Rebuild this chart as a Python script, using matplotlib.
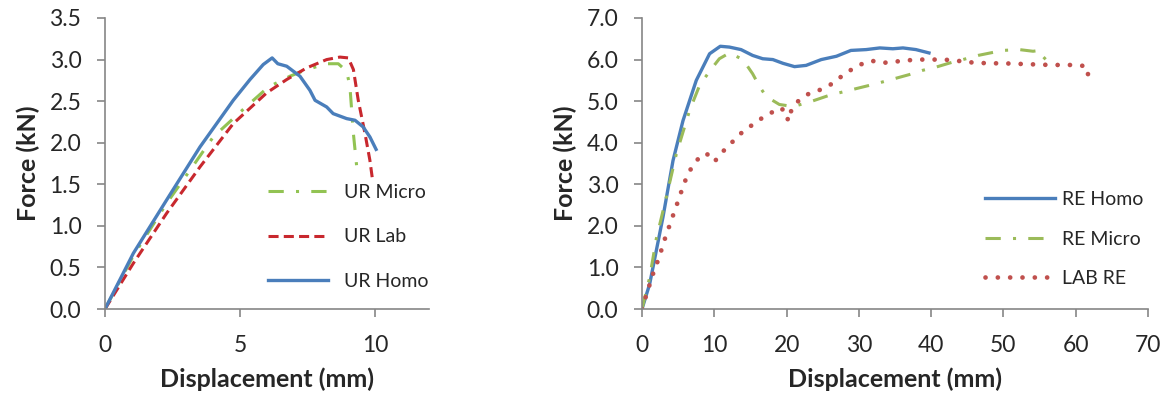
import numpy as np
import matplotlib
matplotlib.use('Agg')
import matplotlib.pyplot as plt

# left panel: UR specimens
ur_micro_x = [0, 1.05, 2.28, 3.15, 4.01, 5.25, 6.05, 6.85, 7.47, 8.21, 8.64, 8.95, 9.07, 9.2, 9.32]
ur_micro_y = [0, 0.64, 1.27, 1.67, 2.07, 2.44, 2.67, 2.80, 2.88, 2.95, 2.95, 2.86, 2.68, 2.11, 1.72]
ur_lab_x = [0, 1.05, 2.28, 3.52, 4.75, 5.99, 6.73, 7.47, 8.21, 8.70, 9.01, 9.2, 9.38, 9.63, 9.81, 9.91]
ur_lab_y = [0, 0.55, 1.15, 1.71, 2.23, 2.60, 2.76, 2.90, 3.00, 3.03, 3.02, 2.88, 2.51, 2.11, 1.79, 1.55]
ur_homo_x = [0, 1.05, 2.28, 3.52, 4.75, 5.37, 5.86, 6.19, 6.4, 6.73, 7.22, 7.59, 7.78, 8.21,
             8.45, 8.95, 9.26, 9.56, 9.81, 10.04]
ur_homo_y = [0, 0.67, 1.31, 1.95, 2.51, 2.76, 2.94, 3.02, 2.95, 2.92, 2.80, 2.63, 2.51, 2.43,
             2.35, 2.29, 2.27, 2.19, 2.07, 1.92]

# right panel: RE specimens
re_homo_x = [0, 1.06, 2.9, 4.29, 5.67, 7.51, 9.35, 10.83, 12.1, 13.7, 15.3, 16.7, 18.1, 19.5,
             21.1, 22.7, 24.8, 26.9, 28.9, 31.0, 32.9, 34.7, 36.1, 37.9, 39.7]
re_homo_y = [0, 0.60, 2.21, 3.57, 4.53, 5.50, 6.14, 6.32, 6.30, 6.24, 6.10, 6.02, 6.00, 5.91,
             5.83, 5.86, 6.00, 6.08, 6.22, 6.24, 6.28, 6.26, 6.28, 6.24, 6.16]
re_micro_x = [0, 1.06, 1.98, 3.36, 4.75, 6.59, 7.97, 9.35, 10.7, 12.1, 13.96, 15.3, 16.3, 17.2,
              19.0, 20.9, 23.2, 25.9, 28.9, 32.4, 34.7, 37.0, 38.8, 40.7, 43.0, 44.4, 46.5,
              49.9, 52.2, 54.1, 55.0, 55.1, 56.2]
re_micro_y = [0, 0.76, 1.69, 2.69, 3.73, 4.78, 5.38, 5.72, 6.02, 6.16, 6.0, 5.66, 5.34, 5.11,
              4.92, 4.87, 4.98, 5.14, 5.27, 5.42, 5.53, 5.64, 5.74, 5.82, 5.94, 6.0, 6.10,
              6.22, 6.24, 6.20, 6.22, 6.14, 5.94]
lab_re_x = [0, 0.46, 0.97, 1.47, 2.03, 2.58, 3.09, 3.59, 4.15, 4.70, 5.25, 5.81, 6.41, 7.28,
            8.34, 9.54, 10.1, 11.2, 12.4, 13.5, 14.8, 16.2, 17.6, 19.0, 20.0, 20.2, 20.7,
            21.7, 23.0, 24.6, 26.1, 27.4, 28.8, 30.2, 31.8, 33.3, 35.0, 36.6, 38.2, 39.9,
            41.6, 43.3, 44.9, 46.6, 48.2, 49.9, 51.6, 53.2, 54.9, 56.5, 58.2, 59.9, 61.5, 61.8]
lab_re_y = [0, 0.26, 0.54, 0.82, 1.08, 1.36, 1.65, 1.90, 2.18, 2.45, 2.73, 3.01, 3.27, 3.51,
            3.73, 3.71, 3.56, 3.79, 4.0, 4.20, 4.37, 4.55, 4.69, 4.84, 4.75, 4.52, 4.80,
            5.02, 5.17, 5.27, 5.40, 5.57, 5.74, 5.88, 5.97, 5.92, 5.95, 5.98, 6.0, 6.0,
            6.0, 5.98, 5.94, 5.92, 5.91, 5.91, 5.90, 5.89, 5.88, 5.87, 5.87, 5.87, 5.84, 5.55]

plt.rcParams['font.family'] = ['Lato', 'DejaVu Sans']
txt = '#262626'
grey = '#868686'
blue = '#4A7EBB'
green = '#92C353'
red = '#C8282E'
red2 = '#C0504D'

fig = plt.figure(figsize=(11.68, 4.0), dpi=100)
axL = fig.add_axes([105/1168, 91/400, 324/1168, 291/400])
axR = fig.add_axes([642/1168, 91/400, 506/1168, 291/400])


def style(ax):
    for s in ['top', 'right']:
        ax.spines[s].set_visible(False)
    for s in ['left', 'bottom']:
        ax.spines[s].set_color(grey)
        ax.spines[s].set_linewidth(1.2)
    ax.tick_params(axis='both', direction='out', length=6, width=1.2, color=grey,
                   labelsize=16.5, labelcolor=txt)
    ax.tick_params(axis='x', pad=13)
    ax.tick_params(axis='y', pad=11)
    ax.set_xlabel('Displacement (mm)', fontsize=18, fontweight='bold', color=txt, labelpad=8)
    ax.set_ylabel('Force (kN)', fontsize=18, fontweight='bold', color=txt, labelpad=7)


# left
axL.plot(ur_micro_x, ur_micro_y, color=green, lw=2.2, dashes=(5, 4, 1, 4), label='UR Micro')
axL.plot(ur_lab_x, ur_lab_y, color=red, lw=2.2, dashes=(3.3, 1.7), label='UR Lab')
axL.plot(ur_homo_x, ur_homo_y, color=blue, lw=2.4, label='UR Homo')
axL.set_xlim(0, 12)
axL.set_ylim(0, 3.5)
axL.set_xticks([0, 5, 10])
axL.set_yticks(np.arange(0, 3.51, 0.5))
axL.yaxis.set_major_formatter(matplotlib.ticker.FormatStrFormatter('%.1f'))
style(axL)
axL.legend(loc='center left', bbox_to_anchor=(268/1168, 1-237/400), bbox_transform=fig.transFigure,
           frameon=False, fontsize=14, handlelength=3.1, handletextpad=0.8, labelspacing=1.4,
           borderpad=0, borderaxespad=0, labelcolor=txt)

# right
axR.plot(re_homo_x, re_homo_y, color=blue, lw=2.4, label='RE Homo')
axR.plot(re_micro_x, re_micro_y, color='#9BBB59', lw=2.2, dashes=(5, 4, 1, 4), label='RE Micro')
lr, = axR.plot(lab_re_x, lab_re_y, color=red2, lw=3.4, dashes=(0.01, 2.6), label='LAB RE')
lr.set_dash_capstyle('round')
axR.set_xlim(0, 70)
axR.set_ylim(0, 7)
axR.set_xticks(np.arange(0, 71, 10))
axR.set_yticks(np.arange(0, 7.01, 1))
axR.yaxis.set_major_formatter(matplotlib.ticker.FormatStrFormatter('%.1f'))
style(axR)
axR.legend(loc='center left', bbox_to_anchor=(985/1168, 1-239/400), bbox_transform=fig.transFigure,
           frameon=False, fontsize=14, handlelength=3.6, handletextpad=0.35, labelspacing=1.15,
           borderpad=0, borderaxespad=0, labelcolor=txt)

fig.savefig('out.png', dpi=100)
